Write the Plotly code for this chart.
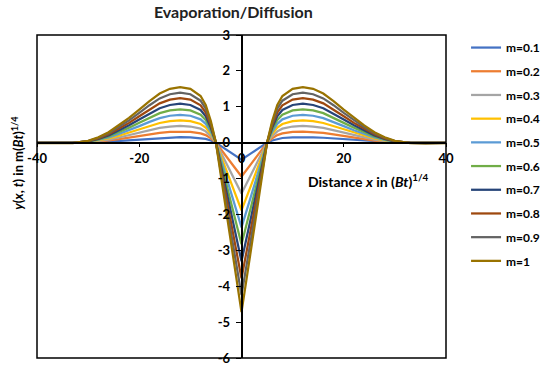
import plotly.graph_objects as go

x_vals = [-40, -36, -33, -30, -28, -26, -24, -22, -20, -18, -16, -14, -12, -10, -8, -7, -6, -5, -4, -2, 0,
          2, 4, 5, 6, 7, 8, 10, 12, 14, 16, 18, 20, 22, 24, 26, 28, 30, 33, 36, 40]

series_names = ["m=0.1", "m=0.2", "m=0.3", "m=0.4", "m=0.5", "m=0.6", "m=0.7", "m=0.8", "m=0.9", "m=1"]

y_m01 = [-0.001, -0.002, -0.001, 0.005, 0.015, 0.029, 0.048, 0.069, 0.092, 0.116, 0.137, 0.15, 0.155, 0.15, 0.13, 0.105, 0.06, 0, -0.095, -0.285, -0.472,
         -0.285, -0.095, 0, 0.06, 0.105, 0.13, 0.15, 0.155, 0.15, 0.137, 0.116, 0.092, 0.069, 0.048, 0.029, 0.015, 0.005, -0.001, -0.002, -0.001]
y_m02 = [-0.002, -0.004, -0.002, 0.01, 0.03, 0.058, 0.096, 0.138, 0.184, 0.232, 0.274, 0.30, 0.31, 0.30, 0.26, 0.21, 0.12, 0, -0.19, -0.57, -0.944,
         -0.57, -0.19, 0, 0.12, 0.21, 0.26, 0.30, 0.31, 0.30, 0.274, 0.232, 0.184, 0.138, 0.096, 0.058, 0.03, 0.01, -0.002, -0.004, -0.002]
y_m03 = [-0.003, -0.006, -0.003, 0.015, 0.045, 0.087, 0.144, 0.207, 0.276, 0.348, 0.411, 0.45, 0.465, 0.45, 0.39, 0.315, 0.18, 0, -0.285, -0.855, -1.416,
         -0.855, -0.285, 0, 0.18, 0.315, 0.39, 0.45, 0.465, 0.45, 0.411, 0.348, 0.276, 0.207, 0.144, 0.087, 0.045, 0.015, -0.003, -0.006, -0.003]
y_m04 = [-0.004, -0.008, -0.004, 0.02, 0.06, 0.116, 0.192, 0.276, 0.368, 0.464, 0.548, 0.60, 0.62, 0.60, 0.52, 0.42, 0.24, 0, -0.38, -1.14, -1.888,
         -1.14, -0.38, 0, 0.24, 0.42, 0.52, 0.60, 0.62, 0.60, 0.548, 0.464, 0.368, 0.276, 0.192, 0.116, 0.06, 0.02, -0.004, -0.008, -0.004]
y_m05 = [-0.005, -0.01, -0.005, 0.025, 0.075, 0.145, 0.24, 0.345, 0.46, 0.58, 0.685, 0.75, 0.775, 0.75, 0.65, 0.525, 0.30, 0, -0.475, -1.425, -2.36,
         -1.425, -0.475, 0, 0.30, 0.525, 0.65, 0.75, 0.775, 0.75, 0.685, 0.58, 0.46, 0.345, 0.24, 0.145, 0.075, 0.025, -0.005, -0.01, -0.005]
y_m06 = [-0.006, -0.012, -0.006, 0.03, 0.09, 0.174, 0.288, 0.414, 0.552, 0.696, 0.822, 0.90, 0.93, 0.90, 0.78, 0.63, 0.36, 0, -0.57, -1.71, -2.832,
         -1.71, -0.57, 0, 0.36, 0.63, 0.78, 0.90, 0.93, 0.90, 0.822, 0.696, 0.552, 0.414, 0.288, 0.174, 0.09, 0.03, -0.006, -0.012, -0.006]
y_m07 = [-0.007, -0.014, -0.007, 0.035, 0.105, 0.203, 0.336, 0.483, 0.644, 0.812, 0.959, 1.05, 1.085, 1.05, 0.91, 0.735, 0.42, 0, -0.665, -1.995, -3.304,
         -1.995, -0.665, 0, 0.42, 0.735, 0.91, 1.05, 1.085, 1.05, 0.959, 0.812, 0.644, 0.483, 0.336, 0.203, 0.105, 0.035, -0.007, -0.014, -0.007]
y_m08 = [-0.008, -0.016, -0.008, 0.04, 0.12, 0.232, 0.384, 0.552, 0.736, 0.928, 1.096, 1.20, 1.24, 1.20, 1.04, 0.84, 0.48, 0, -0.76, -2.28, -3.776,
         -2.28, -0.76, 0, 0.48, 0.84, 1.04, 1.20, 1.24, 1.20, 1.096, 0.928, 0.736, 0.552, 0.384, 0.232, 0.12, 0.04, -0.008, -0.016, -0.008]
y_m09 = [-0.009, -0.018, -0.009, 0.045, 0.135, 0.261, 0.432, 0.621, 0.828, 1.044, 1.233, 1.35, 1.395, 1.35, 1.17, 0.945, 0.54, 0, -0.855, -2.565, -4.248,
         -2.565, -0.855, 0, 0.54, 0.945, 1.17, 1.35, 1.395, 1.35, 1.233, 1.044, 0.828, 0.621, 0.432, 0.261, 0.135, 0.045, -0.009, -0.018, -0.009]
y_m10 = [-0.01, -0.02, -0.01, 0.05, 0.15, 0.29, 0.48, 0.69, 0.92, 1.16, 1.37, 1.50, 1.55, 1.50, 1.30, 1.05, 0.60, 0, -0.95, -2.85, -4.72,
         -2.85, -0.95, 0, 0.60, 1.05, 1.30, 1.50, 1.55, 1.50, 1.37, 1.16, 0.92, 0.69, 0.48, 0.29, 0.15, 0.05, -0.01, -0.02, -0.01]

all_y = [y_m01, y_m02, y_m03, y_m04, y_m05, y_m06, y_m07, y_m08, y_m09, y_m10]
colors = ["#4472C4", "#ED7D31", "#A5A5A5", "#FFC000", "#5B9BD5",
          "#70AD47", "#264478", "#9E480E", "#636363", "#997300"]

x_ticks = [-40, -20, 0, 20, 40]
y_ticks = [-6, -5, -4, -3, -2, -1, 0, 1, 2, 3]

FONT = "Lato"

fig = go.Figure()
for i, (name, ys) in enumerate(zip(series_names, all_y)):
    fig.add_trace(go.Scatter(
        x=x_vals, y=ys, mode="lines", name=name,
        legendgroup=name,
        line=dict(color=colors[i], width=2.25),
    ))

fig.update_layout(
    width=550, height=366,
    margin=dict(l=37, r=104, t=35, b=8, autoexpand=False),
    paper_bgcolor="white", plot_bgcolor="white",
    font=dict(family=FONT, size=12, color="black"),
    title=dict(text="<b>Evaporation/Diffusion</b>", x=0.48, xref="paper", xanchor="center",
               y=0.966, yanchor="middle", font=dict(family=FONT, size=16, color="#222")),
    showlegend=True,
    legend=dict(x=1.049, y=1.006, xanchor="left", yanchor="top",
                maxheight=320,
                font=dict(family=FONT, size=12, color="black", weight="bold"),
                itemwidth=30, tracegroupgap=4.7, traceorder="grouped",
                bgcolor="rgba(0,0,0,0)"),
    xaxis=dict(range=[-40, 40], anchor="free", position=6/9,
               showline=True, linecolor="black", linewidth=1.5,
               ticks="outside", ticklen=4, tickcolor="black", tickwidth=1.2,
               tickvals=x_ticks, ticktext=[str(v) for v in x_ticks],
               tickfont=dict(family=FONT, size=13, weight="bold"),
               showgrid=False, zeroline=False),
    yaxis=dict(range=[-6, 3], anchor="free", position=0.5,
               showline=True, linecolor="black", linewidth=1.5,
               ticks="outside", ticklen=5, tickcolor="black", tickwidth=1.2,
               ticklabelstandoff=3,
               tickvals=y_ticks, ticktext=[str(v) for v in y_ticks],
               tickfont=dict(family=FONT, size=13, weight="bold"),
               showgrid=False, zeroline=False),
    shapes=[dict(type="rect", xref="paper", yref="paper", x0=0, x1=1, y0=0, y1=1,
                 line=dict(color="black", width=1.5), layer="above")],
    annotations=[
        dict(text="<b>Distance <i>x</i> in (<i>Bt</i>)<sup>1/4</sup></b>",
             xref="paper", yref="paper", x=0.963, y=0.55, xanchor="right", yanchor="middle",
             showarrow=False, font=dict(family=FONT, size=14, color="black")),
        dict(text="<b><i>y</i>(<i>x</i>, <i>t</i>) in m(<i>Bt</i>)<sup>1/4</sup></b>",
             xref="paper", yref="paper", x=-0.047, y=0.604, xanchor="center", yanchor="middle",
             textangle=-90, showarrow=False, font=dict(family=FONT, size=13, color="black")),
    ],
)

# remove the default 8px page margin so the figure fills the window exactly
fig.write_html("out.html",
               config={"displayModeBar": False},
               post_script="document.body.style.margin='0';document.body.style.overflow='hidden';")
